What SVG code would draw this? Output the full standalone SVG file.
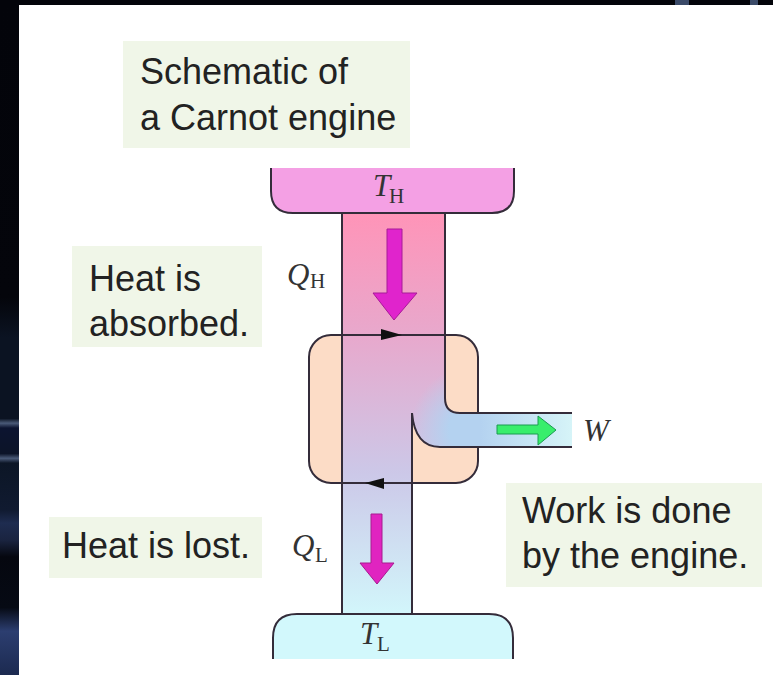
<svg xmlns="http://www.w3.org/2000/svg" width="773" height="675" viewBox="0 0 773 675">
<style>
.ln{fill:none;stroke:#342c3a;stroke-width:2}
.lab{font-family:"Liberation Sans",Arial,sans-serif;font-size:36px;fill:#222}
.m{font-family:"Liberation Serif","Times New Roman",serif;font-size:31px;fill:#333;font-style:italic}
.s{font-family:"Liberation Serif","Times New Roman",serif;font-size:21px;fill:#333}
.note{fill:#f0f6e8}
</style>
<defs>
<linearGradient id="flow" gradientUnits="userSpaceOnUse" x1="0" y1="213" x2="0" y2="614">
<stop offset="0" stop-color="#ff94b8"/>
<stop offset="0.3" stop-color="#e8a8cc"/>
<stop offset="0.65" stop-color="#ccc8e8"/>
<stop offset="1" stop-color="#d2f6fb"/>
</linearGradient>
<radialGradient id="glow" gradientUnits="userSpaceOnUse" cx="475" cy="430" r="65">
<stop offset="0" stop-color="#b4d2f0"/>
<stop offset="0.4" stop-color="#b4d2f0"/>
<stop offset="1" stop-color="#b4d2f0" stop-opacity="0"/>
</radialGradient>
<linearGradient id="work" gradientUnits="userSpaceOnUse" x1="460" y1="0" x2="572" y2="0">
<stop offset="0" stop-color="#b4d2f0" stop-opacity="0"/>
<stop offset="0.18" stop-color="#b4d2f0"/>
<stop offset="1" stop-color="#d6f4f8"/>
</linearGradient>
<linearGradient id="strip" gradientUnits="userSpaceOnUse" x1="0" y1="0" x2="0" y2="675">
<stop offset="0" stop-color="#03040a"/>
<stop offset="0.44" stop-color="#04050b"/>
<stop offset="0.5" stop-color="#0b1322"/>
<stop offset="0.62" stop-color="#0b1322"/>
<stop offset="0.627" stop-color="#4a5a78"/>
<stop offset="0.634" stop-color="#0c1430"/>
<stop offset="0.672" stop-color="#0c1428"/>
<stop offset="0.679" stop-color="#4a5a78"/>
<stop offset="0.686" stop-color="#0c1626"/>
<stop offset="0.755" stop-color="#101a30"/>
<stop offset="0.775" stop-color="#1e2c50"/>
<stop offset="0.8" stop-color="#1a2440"/>
<stop offset="0.825" stop-color="#05070f"/>
<stop offset="0.9" stop-color="#060a14"/>
<stop offset="0.935" stop-color="#2c3e70"/>
<stop offset="1" stop-color="#1c2a50"/>
</linearGradient>
</defs>

<rect width="773" height="675" fill="#fff"/>
<rect width="773" height="5" fill="#03040a"/>
<rect x="675" width="14" height="5" fill="#3a4a68"/>
<rect x="750" width="8" height="5" fill="#3a4a68"/>
<rect width="19" height="675" fill="url(#strip)"/>

<g id="note-title">
<rect class="note" x="123" y="41" width="287" height="107"/>
<text class="lab" x="140" y="84">Schematic of</text>
<text class="lab" x="140" y="130">a Carnot engine</text>
</g>
<g id="note-absorbed">
<rect class="note" x="72" y="246" width="190" height="101"/>
<text class="lab" x="89" y="291">Heat is</text>
<text class="lab" x="89" y="336">absorbed.</text>
</g>
<g id="note-lost">
<rect class="note" x="49" y="517" width="213" height="61"/>
<text class="lab" x="62" y="558">Heat is lost.</text>
</g>
<g id="note-work">
<rect class="note" x="506" y="483" width="256" height="104"/>
<text class="lab" x="522" y="523">Work is done</text>
<text class="lab" x="522" y="568">by the engine.</text>
</g>

<g id="engine">
<rect x="309" y="335" width="169" height="148" rx="22" fill="#fcdcc6" stroke="#342c3a" stroke-width="2"/>
</g>

<g id="connectors">
<path d="M342 213H445V398Q445 413 460 413H572V447H440Q415 447 412 413V614H342Z" fill="url(#flow)"/>
<path d="M342 213H445V398Q445 413 460 413H572V447H440Q415 447 412 413V614H342Z" fill="url(#glow)"/>
<rect x="460" y="413" width="112" height="34" fill="url(#work)"/>
<path class="ln" d="M342 213V614M445 213V398Q445 413 460 413H572M572 447H440Q415 447 412 413V614"/>
<path class="ln" d="M331 335H456M331 483H456"/>
<path d="M381 329L402 335L381 340Z" fill="#111"/>
<path d="M384 478L365 483L384 489Z" fill="#111"/>
<path id="arrow-qh" d="M387 229H402V293H417L394 320L373 293H387Z" fill="#e024cc" stroke="#a81a98" stroke-width="1"/>
<path id="arrow-ql" d="M371 514H382V563H394L377 584L360 563H371Z" fill="#e024c0" stroke="#a81a90" stroke-width="1"/>
<path id="arrow-w" d="M497 425H538V416L556 430L538 445V434H497Z" fill="#38ee6c" stroke="#1a9a50" stroke-width="1"/>
</g>

<g id="reservoir-hot">
<path d="M271 168V191Q271 213 293 213H492Q514 213 514 191V168" fill="#f4a0e4" stroke="#342c3a" stroke-width="2"/>
<text class="m" x="373" y="196">T</text>
<text class="s" x="389" y="203">H</text>
</g>
<g id="reservoir-cold">
<path d="M273 659V638Q273 614 297 614H489Q513 614 513 638V659" fill="#d2f8fc" stroke="#342c3a" stroke-width="2"/>
<text class="m" x="360" y="644">T</text>
<text class="s" x="377" y="651">L</text>
</g>

<g id="labels">
<text class="m" x="287" y="285">Q</text>
<text class="s" x="310" y="288">H</text>
<text class="m" x="292" y="556">Q</text>
<text class="s" x="315" y="562">L</text>
<text class="m" x="583" y="441">W</text>
</g>
</svg>
